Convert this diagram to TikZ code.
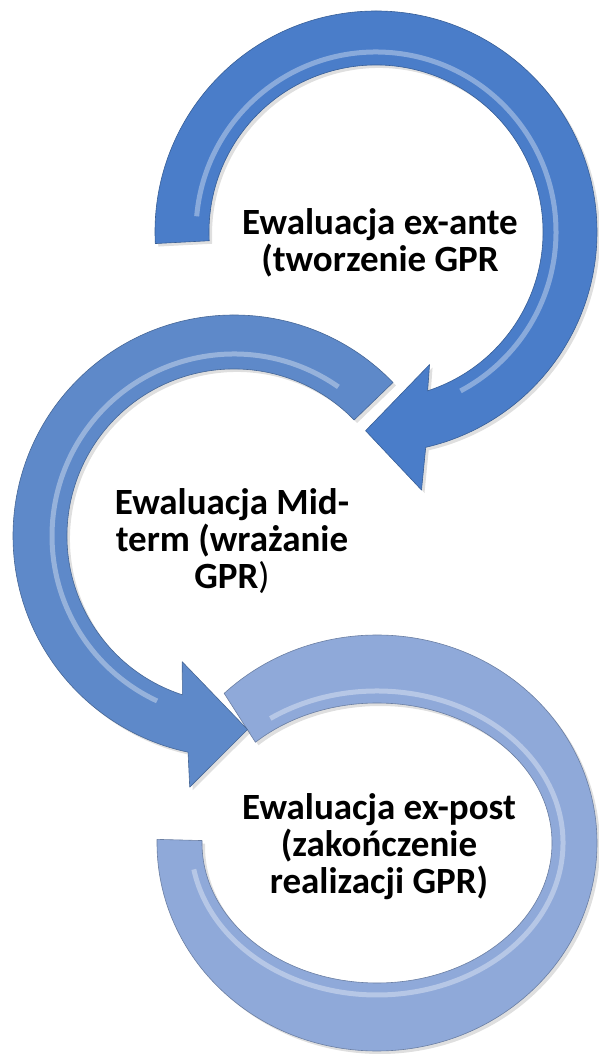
\documentclass[tikz,border=0pt]{standalone}
\usepackage{fontspec}
\setmainfont{Carlito}
\usetikzlibrary{shadows}
\definecolor{arrowA}{RGB}{74,125,201}
\definecolor{arrowB}{RGB}{94,137,201}
\definecolor{arrowC}{RGB}{143,169,217}
\tikzset{
  ringarrow/.style={fill=#1, draw=#1!75!black, line width=0.6pt, line join=round,
    drop shadow={opacity=0.25, shadow xshift=3pt, shadow yshift=-3pt}},
  ringglow/.style={draw=white, opacity=0.35, line width=5pt},
  evaltext/.style={font=\fontsize{37}{37}\selectfont\bfseries, align=center, inner sep=0pt}
}
\begin{document}
\begin{tikzpicture}[x=1pt,y=1pt]
\useasboundingbox (0,0) rectangle (599,1055);
\pgfmathsetmacro{\rout}{221}
\pgfmathsetmacro{\rin}{167}
% bottom ring
\begin{scope}[shift={(377,212)}]
\path[ringarrow=arrowC] (134:220 and 208) arc[start angle=134, end angle=-181, x radius=220, y radius=208]
  -- (-181:175 and 140) arc[start angle=-181, end angle=134, x radius=175, y radius=140] -- cycle;
\draw[ringglow] (125:186 and 152) arc[start angle=125, end angle=-170, x radius=186, y radius=152];
\end{scope}
% middle arrow
\begin{scope}[shift={(234,519)}]
\path[ringarrow=arrowB] (44:\rout) arc[start angle=44, end angle=258, radius=\rout]
  -- (260:255) -- (274:194) -- (247.6:136) -- (252:\rin) arc[start angle=252, end angle=44, radius=\rin] -- cycle;
\draw[ringglow] (55:182) arc[start angle=55, end angle=245, radius=182];
\end{scope}
% top arrow
\begin{scope}[shift={(376,823)}]
\path[ringarrow=arrowA] (183:\rout) arc[start angle=183, end angle=-77, radius=\rout]
  -- (-80:262) -- (-93:199) -- (-68:143) -- (-72:\rin) arc[start angle=-72, end angle=183, radius=\rin] -- cycle;
\draw[ringglow] (175:180) arc[start angle=175, end angle=-62, radius=180];
\end{scope}
\node[evaltext] (ante) at (380,812) {Ewaluacja ex-ante\\(tworzenie GPR};
\node[evaltext] (mid) at (232,514) {Ewaluacja Mid-\\term (wrażanie\\GPR\textmd{)}};
\node[evaltext] (post) at (379,208) {Ewaluacja ex-post\\(zakończenie\\realizacji GPR)};
\end{tikzpicture}
\end{document}
